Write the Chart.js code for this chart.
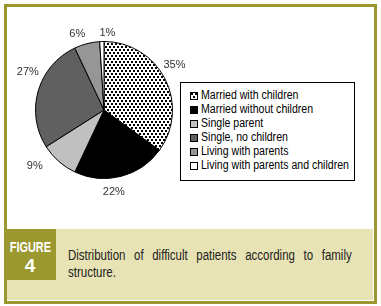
<!DOCTYPE html>
<html>
<head>
<meta charset="utf-8">
<script src="https://cdn.jsdelivr.net/npm/chart.js@4.4.1/dist/chart.umd.min.js"></script>
<style>
  body { margin: 0; width: 381px; height: 306px; background: #fff; position: relative; overflow: hidden; }
  #frame { position: absolute; left: 4px; top: 4px; width: 373px; height: 300px; box-sizing: border-box; border: 3px solid #9c9830; }
  #chart { position: absolute; left: 7px; top: 7px; }
  #legend { position: absolute; left: 180px; top: 82px; width: 175px; height: 99px; box-sizing: border-box;
            border: 1px solid #000; background: #fff; padding-top: 5px;
            font-family: "Liberation Sans", Arial, sans-serif; font-size: 12px; color: #000; }
  .row { height: 14px; line-height: 14px; padding-left: 9px; white-space: nowrap; }
  .sw { display: inline-block; width: 6px; height: 6px; border: 1px solid #000; vertical-align: -1px; margin-right: 3px; }
  .nm { display: inline-block; transform: scaleX(0.88); transform-origin: left center; }
  #band { position: absolute; left: 7px; top: 229px; width: 366px; height: 71px; background: #e8e3b4; }
  #figbox { position: absolute; left: 4px; top: 229px; width: 52px; height: 51px; background: #9c9830; color: #fff;
            font-family: "Liberation Sans", Arial, sans-serif; font-weight: bold; text-align: center; }
  #figbox .t { position: absolute; left: 0; right: 0; top: 11px; font-size: 14px; line-height: 14px; transform: scaleX(0.78); }
  #figbox .n { position: absolute; left: 0; right: 0; top: 27px; font-size: 19px; line-height: 19px; }
  #caption { position: absolute; left: 68px; top: 247px; width: 346px; font-size: 14px; line-height: 17px; color: #222;
             text-align: justify; font-family: "Liberation Sans", Arial, sans-serif;
             transform: scaleX(0.82); transform-origin: left top; }
</style>
</head>
<body>
<div id="frame"></div>
<canvas id="chart" width="366" height="222"></canvas>
<div id="legend"></div>
<div id="band"></div>
<div id="figbox"><div class="t">FIGURE</div><div class="n">4</div></div>
<div id="caption">Distribution of difficult patients according to family structure.</div>
<script>
const categories = ['Married with children', 'Married without children', 'Single parent',
    'Single, no children', 'Living with parents', 'Living with parents and children'];
const shares = [35, 22, 9, 27, 6, 1];
const sliceLabels = shares.map(v => v + '%');

// dotted fill for the first slice
function makeDots() {
    var c = document.createElement('canvas');
    c.width = 4;
    c.height = 6;
    var g = c.getContext('2d');
    g.fillStyle = '#fff';
    g.fillRect(0, 0, 4, 6);
    g.fillStyle = '#000';
    g.fillRect(0, 0, 2, 2);
    g.fillRect(2, 3, 2, 2);
    return c;
}
const dotCanvas = makeDots();
const dots = document.getElementById('chart').getContext('2d').createPattern(dotCanvas, 'repeat');
const fills = [dots, '#000000', '#c0c0c0', '#606060', '#969696', '#ffffff'];

const outsideLabels = {
    id: 'outsideLabels',
    afterDatasetsDraw(chart, args, opts) {
        const ctx = chart.ctx;
        const meta = chart.getDatasetMeta(0);
        ctx.save();
        ctx.font = opts.font;
        ctx.fillStyle = opts.color;
        ctx.textAlign = 'center';
        ctx.textBaseline = 'middle';
        meta.data.forEach((arc, i) => {
            const p = arc.getProps(['x', 'y', 'startAngle', 'endAngle', 'outerRadius'], true);
            const a = (p.startAngle + p.endAngle) / 2;
            const r = p.outerRadius + opts.gap;
            const n = opts.nudge[i] || [0, 0];
            ctx.fillText(sliceLabels[i], p.x + Math.cos(a) * r + n[0], p.y + Math.sin(a) * r + n[1]);
        });
        ctx.restore();
    }
};

new Chart(document.getElementById('chart'), {
    type: 'pie',
    data: {
        labels: categories,
        datasets: [{
            data: shares,
            backgroundColor: fills,
            borderColor: '#000',
            borderWidth: 1
        }]
    },
    options: {
        responsive: false,
        animation: false,
        devicePixelRatio: 1,
        layout: { padding: { left: 28, top: 34, right: 200, bottom: 50 } },
        plugins: {
            legend: { display: false },
            tooltip: { enabled: false },
            outsideLabels: {
                font: '11px "Liberation Sans", Arial, sans-serif',
                color: '#333',
                gap: 15,
                nudge: [[-4, -7], [-11, 1], [-14, -7], [4, -15], [-6, 5], [6, 6]]
            }
        }
    },
    plugins: [outsideLabels]
});

// legend built from the same arrays
var legend = document.getElementById('legend');
var dotUrl = dotCanvas.toDataURL();
categories.forEach((name, i) => {
    var row = document.createElement('div');
    row.className = 'row';
    var sw = document.createElement('span');
    sw.className = 'sw';
    if (i === 0) {
        sw.style.backgroundImage = 'url(' + dotUrl + ')';
    } else {
        sw.style.background = fills[i];
    }
    var nm = document.createElement('span');
    nm.className = 'nm';
    nm.textContent = name;
    row.appendChild(sw);
    row.appendChild(nm);
    legend.appendChild(row);
});
</script>
</body>
</html>
